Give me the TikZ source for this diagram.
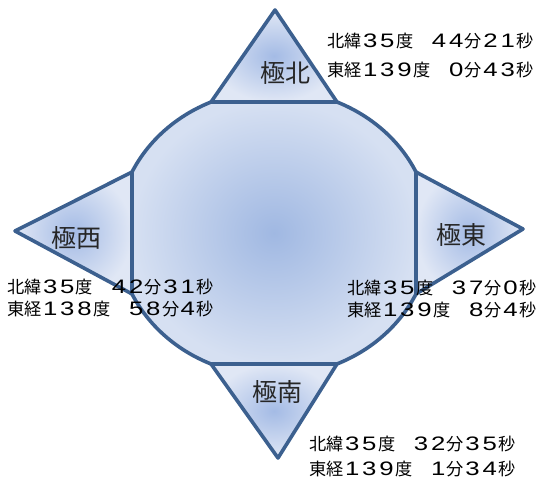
\documentclass[tikz,border=0pt]{standalone}
\usepackage{fontspec}
\setmainfont{Noto Sans CJK JP}
\newfontfamily\digfont[FakeStretch=1.32]{Liberation Sans}
\newcommand\dg[1]{\makebox[1em]{\fontsize{19.5}{20}\digfont #1}}
\definecolor{edge}{RGB}{60,96,143}
\definecolor{mainin}{RGB}{160,184,226}
\definecolor{mainout}{RGB}{214,224,242}
\definecolor{triin}{RGB}{164,187,229}
\definecolor{triout}{RGB}{224,231,245}
\begin{document}
\begin{tikzpicture}[x=1pt,y=1pt,
  outline/.style={draw=edge, line width=3.6pt, line join=round},
  bodyshade/.style={shade, shading=radial, inner color=mainin, outer color=mainout},
  trishade/.style={shade, shading=radial, inner color=triin, outer color=triout},
  lbl/.style={font=\fontsize{25}{30}\selectfont, inner sep=0pt, text=black!85},
  coordtxt/.style={font=\fontsize{17.2}{20}\selectfont, inner sep=0pt, anchor=west, text=black}]
\useasboundingbox (0,0) rectangle (546,489);
% junction points on the ellipse (centre 274,256; radii 157,143)
\coordinate (T1) at (211.04,387);
\coordinate (T2) at (336.96,387);
\coordinate (R1) at (416,316.95);
\coordinate (R2) at (416,195.05);
\coordinate (B2) at (336.96,125);
\coordinate (B1) at (211.04,125);
\coordinate (L2) at (132,195.05);
\coordinate (L1) at (132,316.95);
\coordinate (AN) at (275,479);
\coordinate (AW) at (15,258);
\coordinate (AE) at (523,260);
\coordinate (AS) at (278,31);
% body
\path[outline, bodyshade] (T2)
  arc[start angle=66.36, end angle=25.23, x radius=157, y radius=143] -- (R2)
  arc[start angle=-25.23, end angle=-66.36, x radius=157, y radius=143] -- (B1)
  arc[start angle=-113.64, end angle=-154.77, x radius=157, y radius=143] -- (L1)
  arc[start angle=154.77, end angle=113.64, x radius=157, y radius=143] -- cycle;
% triangles
\path[outline, trishade] (AN) -- (T1) -- (T2) -- cycle;
\path[outline, trishade] (AW) -- (L1) -- (L2) -- cycle;
\path[outline, trishade] (AE) -- (R1) -- (R2) -- cycle;
\path[outline, trishade] (AS) -- (B1) -- (B2) -- cycle;
% labels
\node[lbl] (north) at (285,416.5) {極北};
\node[lbl] (west) at (76,251) {極西};
\node[lbl] (east) at (461,254) {極東};
\node[lbl] (south) at (277,96.5) {極南};
% coordinates
\node[coordtxt] (n1) at (327,447.5) {北緯\dg3\dg5度　\dg4\dg4分\dg2\dg1秒};
\node[coordtxt] (n2) at (327,419) {東経\dg1\dg3\dg9度　\dg0分\dg4\dg3秒};
\node[coordtxt] (w1) at (7,201.5) {北緯\dg3\dg5度　\dg4\dg2分\dg3\dg1秒};
\node[coordtxt] (w2) at (7,180) {東経\dg1\dg3\dg8度　\dg5\dg8分\dg4秒};
\node[coordtxt] (e1) at (347,200.5) {北緯\dg3\dg5度　\dg3\dg7分\dg0秒};
\node[coordtxt] (e2) at (347,178.5) {東経\dg1\dg3\dg9度　\dg8分\dg4秒};
\node[coordtxt] (s1) at (309,44.5) {北緯\dg3\dg5度　\dg3\dg2分\dg3\dg5秒};
\node[coordtxt] (s2) at (309,19.5) {東経\dg1\dg3\dg9度　\dg1分\dg3\dg4秒};
\end{tikzpicture}
\end{document}
